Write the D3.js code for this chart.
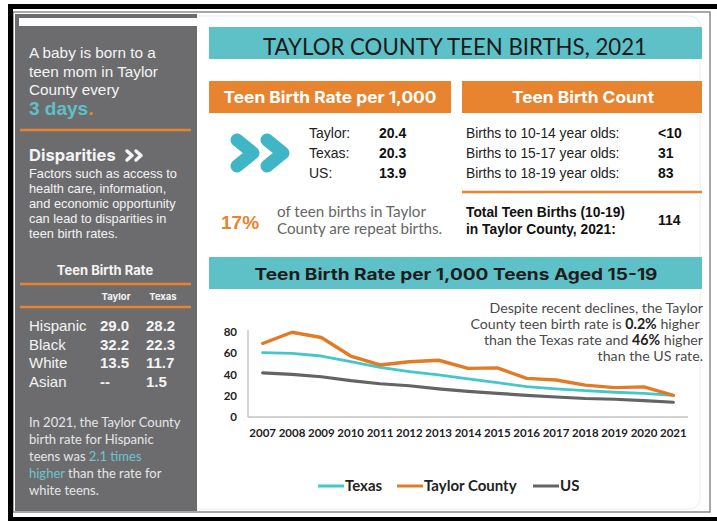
<!DOCTYPE html>
<html>
<head>
<meta charset="utf-8">
<script src="https://cdn.jsdelivr.net/npm/d3@7"></script>
<style>
  body { margin: 0; background: #fff; }
  svg { display: block; }
  .sans { font-family: "Liberation Sans", Arial, sans-serif; }
  .rale { font-family: Lato, "Open Sans", sans-serif; }
  .mont { font-family: Inter, "Open Sans", sans-serif; font-weight: 700; }
</style>
</head>
<body>
<div id="chart"></div>
<script>
// ---- data ----
var years = [2007, 2008, 2009, 2010, 2011, 2012, 2013, 2014, 2015, 2016, 2017, 2018, 2019, 2020, 2021]
var texasRate  = [60.6, 59.9, 57.4, 52.2, 46.6, 42.8, 39.6, 35.9, 32.4, 28.6, 26.5, 24.8, 23.3, 22.3, 20.3]
var taylorRate = [69.2, 79.8, 74.8, 57.4, 49.0, 52.0, 53.4, 45.8, 46.2, 36.4, 34.8, 30.0, 27.6, 28.4, 20.4]
var usRate     = [41.5, 40.2, 37.9, 34.2, 31.3, 29.4, 26.5, 24.2, 22.3, 20.3, 18.8, 17.4, 16.7, 15.4, 13.9]
var yTicks = [0, 20, 40, 60, 80]

var rateLabels = ["Taylor:", "Texas:", "US:"]
var rateValues = ["20.4", "20.3", "13.9"]

var countLabels = ["Births to 10-14 year olds:", "Births to 15-17 year olds:", "Births to 18-19 year olds:"]
var countValues = ["<10", "31", "83"]
var totalBirths = "114"

var raceNames  = ["Hispanic", "Black", "White", "Asian"]
var raceTaylor = ["29.0", "32.2", "13.5", "--"]
var raceTexas  = ["28.2", "22.3", "11.7", "1.5"]

var seriesNames = ["Texas", "Taylor County", "US"]

// ---- colours ----
var teal = "#5fc1c8", orange = "#e8842f", panel = "#6c6c6f"
var lineColors = {"Texas": "#45c6cd", "Taylor County": "#e27a26", "US": "#646464"}

var W = 717, H = 521
var svg = d3.select("#chart").append("svg").attr("width", W).attr("height", H)

// frame
svg.append("rect").attr("x", 13).attr("y", 12).attr("width", 697).attr("height", 500)
  .attr("fill", "#fff").attr("stroke", "#8a8a8a").attr("stroke-width", 1.5)
svg.append("rect").attr("x", 8).attr("y", 4).attr("width", 709).attr("height", 5).attr("fill", "#000")
svg.append("rect").attr("x", 8).attr("y", 4).attr("width", 5).attr("height", 517).attr("fill", "#000")
svg.append("rect").attr("x", 8).attr("y", 517).attr("width", 709).attr("height", 4).attr("fill", "#000")
svg.append("rect").attr("x", 150).attr("y", 16).attr("width", 550).attr("height", 493).attr("rx", 10)
  .attr("fill", "none").attr("stroke", "#ececec")

// ---- left panel ----
svg.append("rect").attr("x", 15).attr("y", 14).attr("width", 182).attr("height", 497).attr("fill", panel)
svg.append("rect").attr("x", 19).attr("y", 18).attr("width", 178).attr("height", 8).attr("fill", "#fff")

var left = svg.append("g").attr("fill", "#f4f4f4")
var intro = ["A baby is born to a", "teen mom in Taylor", "County every"]
intro.forEach(function(t, i){
  left.append("text").attr("class", "sans").attr("x", 29).attr("y", 58 + i * 18.5)
    .attr("font-size", 15.3).text(t)
})
var days = left.append("text").attr("class", "sans").attr("x", 29).attr("y", 115)
  .attr("font-size", 19).attr("font-weight", "bold")
days.append("tspan").attr("fill", teal).text("3 days")
days.append("tspan").attr("fill", orange).text(".")

left.append("line").attr("x1", 20).attr("x2", 191).attr("y1", 130).attr("y2", 130)
  .attr("stroke", orange).attr("stroke-width", 2.5)

left.append("text").attr("class", "mont").attr("x", 29).attr("y", 161)
  .attr("font-size", 16.5).text("Disparities")
;[0, 9].forEach(function(dx){
  left.append("path").attr("d", "M" + (127 + dx) + ",151 L" + (132 + dx) + ",155.5 L" + (127 + dx) + ",160")
    .attr("fill", "none").attr("stroke", "#f4f4f4").attr("stroke-width", 3.5)
    .attr("stroke-linejoin", "round").attr("stroke-linecap", "round")
})
var disp = ["Factors such as access to", "health care, information,", "and economic opportunity",
            "can lead to disparities in", "teen birth rates."]
disp.forEach(function(t, i){
  left.append("text").attr("class", "sans").attr("x", 29).attr("y", 178 + i * 15)
    .attr("font-size", 12.8).text(t)
})

left.append("text").attr("class", "mont").attr("x", 105).attr("y", 275)
  .attr("text-anchor", "middle").attr("font-size", 13).text("Teen Birth Rate")
left.append("line").attr("x1", 20).attr("x2", 191).attr("y1", 284).attr("y2", 284)
  .attr("stroke", orange).attr("stroke-width", 2.5)
left.append("text").attr("class", "mont").attr("x", 116).attr("y", 300)
  .attr("text-anchor", "middle").attr("font-size", 9.5).text("Taylor")
left.append("text").attr("class", "mont").attr("x", 163).attr("y", 300)
  .attr("text-anchor", "middle").attr("font-size", 9.5).text("Texas")
left.append("line").attr("x1", 20).attr("x2", 191).attr("y1", 307).attr("y2", 307)
  .attr("stroke", orange).attr("stroke-width", 2.5)

raceNames.forEach(function(r, i){
  var y = 331 + i * 18.6
  left.append("text").attr("class", "sans").attr("x", 29).attr("y", y).attr("font-size", 15).text(r)
  left.append("text").attr("class", "sans").attr("x", 100).attr("y", y).attr("font-size", 15)
    .attr("font-weight", "bold").text(raceTaylor[i])
  left.append("text").attr("class", "sans").attr("x", 146).attr("y", y).attr("font-size", 15)
    .attr("font-weight", "bold").text(raceTexas[i])
})

var note = [["In 2021, the Taylor County"], ["birth rate for Hispanic"],
            ["teens was ", "2.1 times"], ["higher", " than the rate for"], ["white teens."]]
note.forEach(function(parts, i){
  var t = left.append("text").attr("class", "rale").attr("x", 29).attr("y", 427 + i * 17)
    .attr("font-size", 13).attr("fill", "#e6e6e6").attr("xml:space", "preserve")
  parts.forEach(function(p){
    var hi = (p == "2.1 times" || p == "higher")
    t.append("tspan").attr("fill", hi ? "#6cc6cc" : "#e6e6e6").text(p)
  })
})

// ---- top right ----
svg.append("rect").attr("x", 209).attr("y", 27).attr("width", 493).attr("height", 32).attr("fill", teal)
svg.append("text").attr("class", "rale").attr("x", 455).attr("y", 55).attr("text-anchor", "middle")
  .attr("font-size", 23).attr("fill", "#1b1b1b")
  .attr("textLength", 384).attr("lengthAdjust", "spacingAndGlyphs")
  .text("TAYLOR COUNTY TEEN BIRTHS, 2021")

svg.append("rect").attr("x", 209).attr("y", 81).attr("width", 242).attr("height", 32).attr("fill", orange)
svg.append("rect").attr("x", 462).attr("y", 81).attr("width", 240).attr("height", 32).attr("fill", orange)
svg.append("text").attr("class", "mont").attr("x", 330).attr("y", 103).attr("text-anchor", "middle")
  .attr("font-size", 16.5).attr("fill", "#fff")
  .attr("textLength", 213).attr("lengthAdjust", "spacingAndGlyphs").text("Teen Birth Rate per 1,000")
svg.append("text").attr("class", "mont").attr("x", 583).attr("y", 103).attr("text-anchor", "middle")
  .attr("font-size", 16.5).attr("fill", "#fff")
  .attr("textLength", 142).attr("lengthAdjust", "spacingAndGlyphs").text("Teen Birth Count")

// chevrons
;[0, 30].forEach(function(dx){
  svg.append("path").attr("d", "M" + (237 + dx) + ",140 L" + (253 + dx) + ",153 L" + (237 + dx) + ",166")
    .attr("fill", "none").attr("stroke", "#3fb6c5").attr("stroke-width", 13)
    .attr("stroke-linejoin", "round").attr("stroke-linecap", "round")
})

rateLabels.forEach(function(l, i){
  var y = 138 + i * 20
  svg.append("text").attr("class", "sans").attr("x", 309).attr("y", y).attr("font-size", 14)
    .attr("fill", "#222").text(l)
  svg.append("text").attr("class", "sans").attr("x", 379).attr("y", y).attr("font-size", 14)
    .attr("font-weight", "bold").attr("fill", "#111").text(rateValues[i])
})
countLabels.forEach(function(l, i){
  var y = 138 + i * 20
  svg.append("text").attr("class", "sans").attr("x", 466).attr("y", y).attr("font-size", 13.8)
    .attr("fill", "#222").text(l)
  svg.append("text").attr("class", "sans").attr("x", 658).attr("y", y).attr("font-size", 14)
    .attr("font-weight", "bold").attr("fill", "#111").text(countValues[i])
})
svg.append("line").attr("x1", 462).attr("x2", 702).attr("y1", 192).attr("y2", 192)
  .attr("stroke", orange).attr("stroke-width", 2.5)
svg.append("text").attr("class", "sans").attr("x", 466).attr("y", 217).attr("font-size", 13.8)
  .attr("font-weight", "bold").attr("fill", "#111").text("Total Teen Births (10-19)")
svg.append("text").attr("class", "sans").attr("x", 466).attr("y", 234).attr("font-size", 13.8)
  .attr("font-weight", "bold").attr("fill", "#111").text("in Taylor County, 2021:")
svg.append("text").attr("class", "sans").attr("x", 658).attr("y", 225).attr("font-size", 14)
  .attr("font-weight", "bold").attr("fill", "#111").text(totalBirths)

svg.append("text").attr("class", "sans").attr("x", 221).attr("y", 229).attr("font-size", 19)
  .attr("font-weight", "bold").attr("fill", orange).text("17%")
svg.append("text").attr("class", "rale").attr("x", 277).attr("y", 217).attr("font-size", 15.2)
  .attr("fill", "#666").text("of teen births in Taylor")
svg.append("text").attr("class", "rale").attr("x", 277).attr("y", 234).attr("font-size", 15.2)
  .attr("fill", "#666").text("County are repeat births.")

// ---- line chart ----
svg.append("rect").attr("x", 209).attr("y", 257).attr("width", 493).attr("height", 32).attr("fill", teal)
svg.append("text").attr("class", "mont").attr("x", 456).attr("y", 280).attr("text-anchor", "middle")
  .attr("font-size", 16).attr("fill", "#1d1d1d")
  .attr("textLength", 403).attr("lengthAdjust", "spacingAndGlyphs")
  .text("Teen Birth Rate per 1,000 Teens Aged 15-19")

var x = d3.scalePoint().domain(years).range([248, 688]).padding(0.5)
var y = d3.scaleLinear().domain([0, 80]).range([417, 332])

var g = svg.append("g")
g.append("line").attr("x1", 248).attr("x2", 688).attr("y1", y(0)).attr("y2", y(0))
  .attr("stroke", "#c4c4c4").attr("stroke-width", 1.5)
g.append("line").attr("x1", 248).attr("x2", 248).attr("y1", 330).attr("y2", y(0))
  .attr("stroke", "#c4c4c4").attr("stroke-width", 1.5)

g.selectAll(".ytick").data(yTicks).enter().append("text")
  .attr("class", "rale").attr("x", 237).attr("y", function(d){ return y(d) + 4 })
  .attr("text-anchor", "end").attr("font-size", 11.5).attr("font-weight", "bold")
  .attr("fill", "#222").text(function(d){ return d })
g.selectAll(".xtick").data(years).enter().append("text")
  .attr("class", "rale").attr("x", function(d){ return x(d) }).attr("y", 437)
  .attr("text-anchor", "middle").attr("font-size", 11.5).attr("font-weight", "bold")
  .attr("fill", "#222").text(function(d){ return d })

var series = [
  {name: "US", values: usRate, w: 3.2},
  {name: "Texas", values: texasRate, w: 2.8},
  {name: "Taylor County", values: taylorRate, w: 3.4}
]
var line = d3.line().x(function(d, i){ return x(years[i]) }).y(function(d){ return y(d) })
series.forEach(function(s){
  g.append("path").attr("d", line(s.values)).attr("fill", "none")
    .attr("stroke", lineColors[s.name]).attr("stroke-width", s.w)
    .attr("stroke-linejoin", "round").attr("stroke-linecap", "round")
})

// annotation
var ann = [["Despite recent declines, the Taylor"],
           ["County teen birth rate is ", "0.2%", " higher "],
           ["than the Texas rate and ", "46%", " higher"],
           ["than the US rate."]]
ann.forEach(function(parts, i){
  var t = svg.append("text").attr("class", "rale").attr("x", 703).attr("y", 313 + i * 16)
    .attr("text-anchor", "end").attr("font-size", 14.2).attr("fill", "#4a4a4a")
    .attr("xml:space", "preserve")
  parts.forEach(function(p){
    t.append("tspan").attr("font-weight", p.indexOf("%") > 0 ? "bold" : null)
      .attr("fill", p.indexOf("%") > 0 ? "#222" : null).text(p)
  })
})

// legend
var legX = {"Texas": 318, "Taylor County": 397, "US": 533}
seriesNames.forEach(function(n){
  g.append("line").attr("x1", legX[n]).attr("x2", legX[n] + 26).attr("y1", 486).attr("y2", 486)
    .attr("stroke", lineColors[n]).attr("stroke-width", 3)
  g.append("text").attr("class", "rale").attr("x", legX[n] + 27).attr("y", 491)
    .attr("font-size", 15).attr("font-weight", "bold").attr("fill", "#222").text(n)
})
</script>
</body>
</html>
